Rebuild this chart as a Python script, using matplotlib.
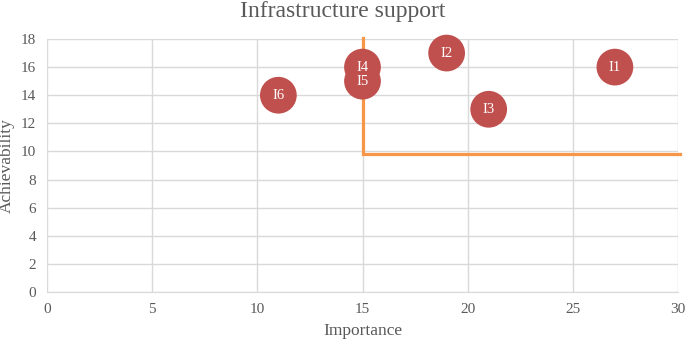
import matplotlib
matplotlib.use("Agg")
import matplotlib.pyplot as plt

labels = ["I1", "I2", "I3", "I4", "I5", "I6"]
importance = [27, 19, 21, 15, 15, 11]
achievability = [16, 17, 13, 16, 15, 14]
thr_x = [15, 15, 30.1]
thr_y = [18.1, 9.8, 9.8]
xticks = [0, 5, 10, 15, 20, 25, 30]
yticks = [0, 2, 4, 6, 8, 10, 12, 14, 16, 18]

plt.rcParams['font.family'] = ['Liberation Serif', 'DejaVu Serif']
fig = plt.figure(figsize=(6.85, 3.40), dpi=100)
ax = fig.add_axes([47/685, 48/340, (678-47)/685, (292-39)/340])

ax.plot(thr_x, thr_y, color="#F79646", lw=2.3, zorder=2, clip_on=False,
        solid_joinstyle="miter")
ax.scatter(importance, achievability, s=700, color="#C0504D", zorder=3,
           clip_on=False, edgecolors="none")
for lb, x, y in zip(labels, importance, achievability):
    ax.text(x, y, lb, color="white", ha="center", va="center", fontsize=10.5, zorder=4)

ax.set_xlim(0, 30)
ax.set_ylim(0, 18)
ax.set_xticks(xticks)
ax.set_yticks(yticks)
ax.grid(True, color="#D9D9D9", lw=1)
ax.set_axisbelow(True)
for s in ["top", "right", "left"]:
    ax.spines[s].set_visible(False)
ax.spines["bottom"].set_color("#D9D9D9")
ax.tick_params(length=0, colors="#595959", labelsize=11, pad=8)
ax.set_xlabel("Importance", fontsize=12.5, color="#595959", labelpad=5)
ax.set_ylabel("Achievability", fontsize=12.5, color="#595959", labelpad=4)
fig.text(0.5, 0.965, "Infrastructure support", ha="center", va="center",
         fontsize=17, color="#595959")
fig.savefig("out.png", dpi=100)
